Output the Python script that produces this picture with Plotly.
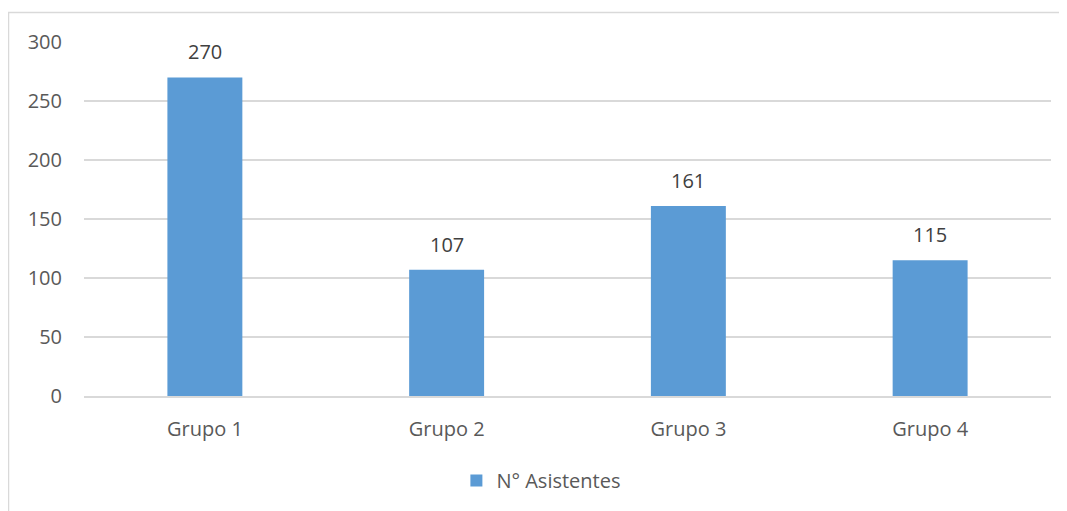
import plotly.graph_objects as go

categories = ["Grupo 1", "Grupo 2", "Grupo 3", "Grupo 4"]
values = [270, 107, 161, 115]
series_name = "N° Asistentes"
y_ticks = [0, 50, 100, 150, 200, 250, 300]

bar_color = "#5B9BD5"
text_color = "#595959"
font_family = "Open Sans, DejaVu Sans, sans-serif"

# page has an 8px body margin; figure is sized to compensate
W, H = 1059, 503
L, R, T, B = 76, 16, 34, 114
PW, PH = W - L - R, H - T - B

fig = go.Figure()
fig.add_trace(go.Bar(
    x=categories, y=values, name=series_name,
    marker=dict(color=bar_color, line=dict(width=0)),
    width=0.31,
    showlegend=True,
))

for c, v in zip(categories, values):
    fig.add_annotation(x=c, y=v, text=str(v), showarrow=False,
                       yanchor="bottom", yshift=10,
                       font=dict(family=font_family, size=20, color="#404040"))

fig.update_layout(
    width=W, height=H,
    margin=dict(l=L, r=R, t=T, b=B),
    paper_bgcolor="white", plot_bgcolor="white",
    font=dict(family=font_family, size=20, color=text_color),
    legend=dict(orientation="h", x=0.473, xanchor="center", y=-0.235, yanchor="middle",
                font=dict(size=20, color=text_color), itemwidth=30),
    xaxis=dict(showgrid=False, showline=True, linecolor="#d9d9d9", linewidth=1.5,
               ticks="", ticklabelstandoff=14, tickfont=dict(size=20, color=text_color)),
    yaxis=dict(range=[0, 300], tickvals=y_ticks, showgrid=True, gridcolor="#d9d9d9",
               gridwidth=1.5, zeroline=False, showline=False, ticks="",
               ticklabelstandoff=21, tickfont=dict(size=20, color=text_color)),
    shapes=[dict(type="rect", xref="paper", yref="paper",
                 x0=(0.5 - L) / PW, x1=(W + 20 - L) / PW,
                 y0=-(B + 20) / PH, y1=(PH + T - 4.5) / PH,
                 line=dict(color="#d9d9d9", width=1.5), fillcolor="rgba(0,0,0,0)",
                 layer="below")],
)

fig.write_html("out.html")
